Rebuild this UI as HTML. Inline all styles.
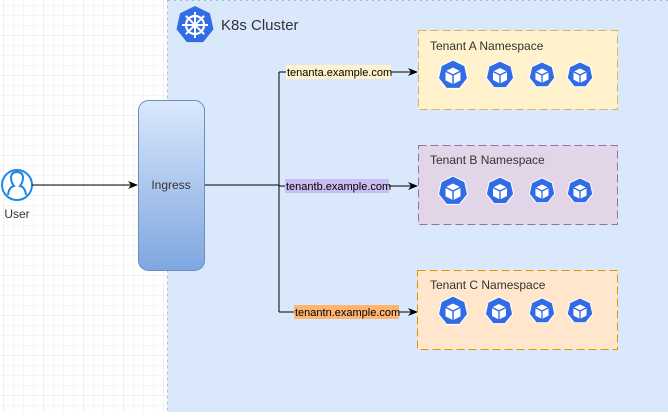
<!DOCTYPE html>
<html><head><meta charset="utf-8"><style>
body{margin:0;width:668px;height:412px;overflow:hidden;font-family:"Liberation Sans",sans-serif;}
</style></head><body>
<svg width="668" height="412" xmlns="http://www.w3.org/2000/svg" font-family="Liberation Sans, sans-serif">
<defs>
<pattern id="g" width="10" height="10" patternUnits="userSpaceOnUse"><path d="M10 0V10H0" fill="none" stroke="#ececec" stroke-width="1"/></pattern>
<pattern id="G" width="40" height="40" patternUnits="userSpaceOnUse" x="4" y="-4"><rect width="40" height="40" fill="url(#g)"/><path d="M40 0V40H0" fill="none" stroke="#e0e0e0"/></pattern>
<linearGradient id="ig" x1="0" y1="0" x2="0" y2="1"><stop offset="0" stop-color="#dae8fc"/><stop offset="1" stop-color="#7ea6e0"/></linearGradient>
<symbol id="pod" viewBox="-15 -15 30 30">
<polygon points="0,-14 11,-8.7 13.6,3.1 6.1,12.6 -6.1,12.6 -13.6,3.1 -11,-8.7" fill="#326ce5" stroke="#fff" stroke-width="1"/>
<polygon points="0,-7 7,-3.5 7,5 0,8.5 -7,5 -7,-3.5" fill="#fff"/>
<path d="M-7,-3.5 L0,0 L7,-3.5 M0,0 V8.5" stroke="#326ce5" stroke-width="1.4" fill="none"/>
</symbol>
<marker id="a" markerWidth="10" markerHeight="8" refX="9" refY="4" orient="auto" markerUnits="userSpaceOnUse"><path d="M0,0 L10,4 L0,8 L3,4Z" fill="#000"/></marker>
</defs>
<rect width="668" height="412" fill="#fff"/>
<rect width="668" height="412" fill="url(#G)"/>
<rect x="167.5" y="0.5" width="505" height="420" fill="#dae8fc" stroke="#a9bfd8" stroke-dasharray="3 3"/>
<g transform="translate(195,25)">
<polygon points="0,-19 14.9,-11.8 18.5,4.2 8.2,17.1 -8.2,17.1 -18.5,4.2 -14.9,-11.8" fill="#326ce5"/>
<circle r="9" fill="none" stroke="#fff" stroke-width="2.2"/>
<circle r="2.8" fill="#fff"/>
<g stroke="#fff" stroke-width="2"><path d="M0,-13V13M-13,0H13M-9.2,-9.2L9.2,9.2M9.2,-9.2L-9.2,9.2"/></g>
</g>
<text x="221" y="30" font-size="15" fill="#333">K8s Cluster</text>
<circle cx="17" cy="185" r="15" fill="#fff" stroke="#1e88e5" stroke-width="2"/>
<path d="M8,195 Q9,187 14,186 Q11,182 11,178 Q11,172 17,172 Q23,172 23,178 Q23,182 20,186 Q25,187 26,195" fill="none" stroke="#1e88e5" stroke-width="2"/>
<text x="17" y="218" font-size="12" fill="#333" text-anchor="middle">User</text>
<line x1="32" y1="185" x2="137" y2="185" stroke="#000" marker-end="url(#a)"/>
<rect x="138.5" y="100.5" width="66" height="170" rx="10" fill="url(#ig)" stroke="#6c8ebf"/>
<text x="171" y="189" font-size="12" fill="#333" text-anchor="middle">Ingress</text>
<path d="M205,185H279M279,72V312" stroke="#000" fill="none"/>
<line x1="279" y1="72" x2="417" y2="72" stroke="#000" marker-end="url(#a)"/>
<line x1="279" y1="186" x2="417" y2="186" stroke="#000" marker-end="url(#a)"/>
<line x1="279" y1="312" x2="417" y2="312" stroke="#000" marker-end="url(#a)"/>
<rect x="286" y="65" width="105" height="14" fill="#fff2cc"/>
<text x="287" y="76" font-size="11" fill="#000">tenanta.example.com</text>
<rect x="285" y="179" width="104" height="14" fill="#c9bdf2"/>
<text x="286" y="190" font-size="11" fill="#000">tenantb.example.com</text>
<rect x="294" y="305" width="105" height="14" fill="#ffb570"/>
<text x="295" y="316" font-size="11" fill="#000">tenantn.example.com</text>
<rect x="418.5" y="30.5" width="199" height="79" fill="#fff2cc" stroke="#d6b656" stroke-dasharray="8 4"/>
<text x="430" y="50" font-size="12" fill="#333">Tenant A Namespace</text>
<rect x="418.5" y="145.5" width="199" height="79" fill="#e1d5e7" stroke="#9673a6" stroke-dasharray="8 4"/>
<text x="430" y="164" font-size="12" fill="#333">Tenant B Namespace</text>
<rect x="417.5" y="270.5" width="200" height="79" fill="#ffe6cc" stroke="#d79b00" stroke-dasharray="8 4"/>
<text x="430" y="289" font-size="12" fill="#333">Tenant C Namespace</text>
<use href="#pod" x="437" y="59" width="32" height="32"/>
<use href="#pod" x="485" y="60" width="30" height="30"/>
<use href="#pod" x="528" y="61" width="28" height="28"/>
<use href="#pod" x="566" y="61" width="28" height="28"/>
<use href="#pod" x="437" y="175" width="32" height="32"/>
<use href="#pod" x="485" y="176" width="30" height="30"/>
<use href="#pod" x="528" y="177" width="28" height="28"/>
<use href="#pod" x="566" y="177" width="28" height="28"/>
<use href="#pod" x="437" y="295" width="32" height="32"/>
<use href="#pod" x="484" y="296" width="30" height="30"/>
<use href="#pod" x="528" y="297" width="28" height="28"/>
<use href="#pod" x="566" y="297" width="28" height="28"/>
</svg>
</body></html>
